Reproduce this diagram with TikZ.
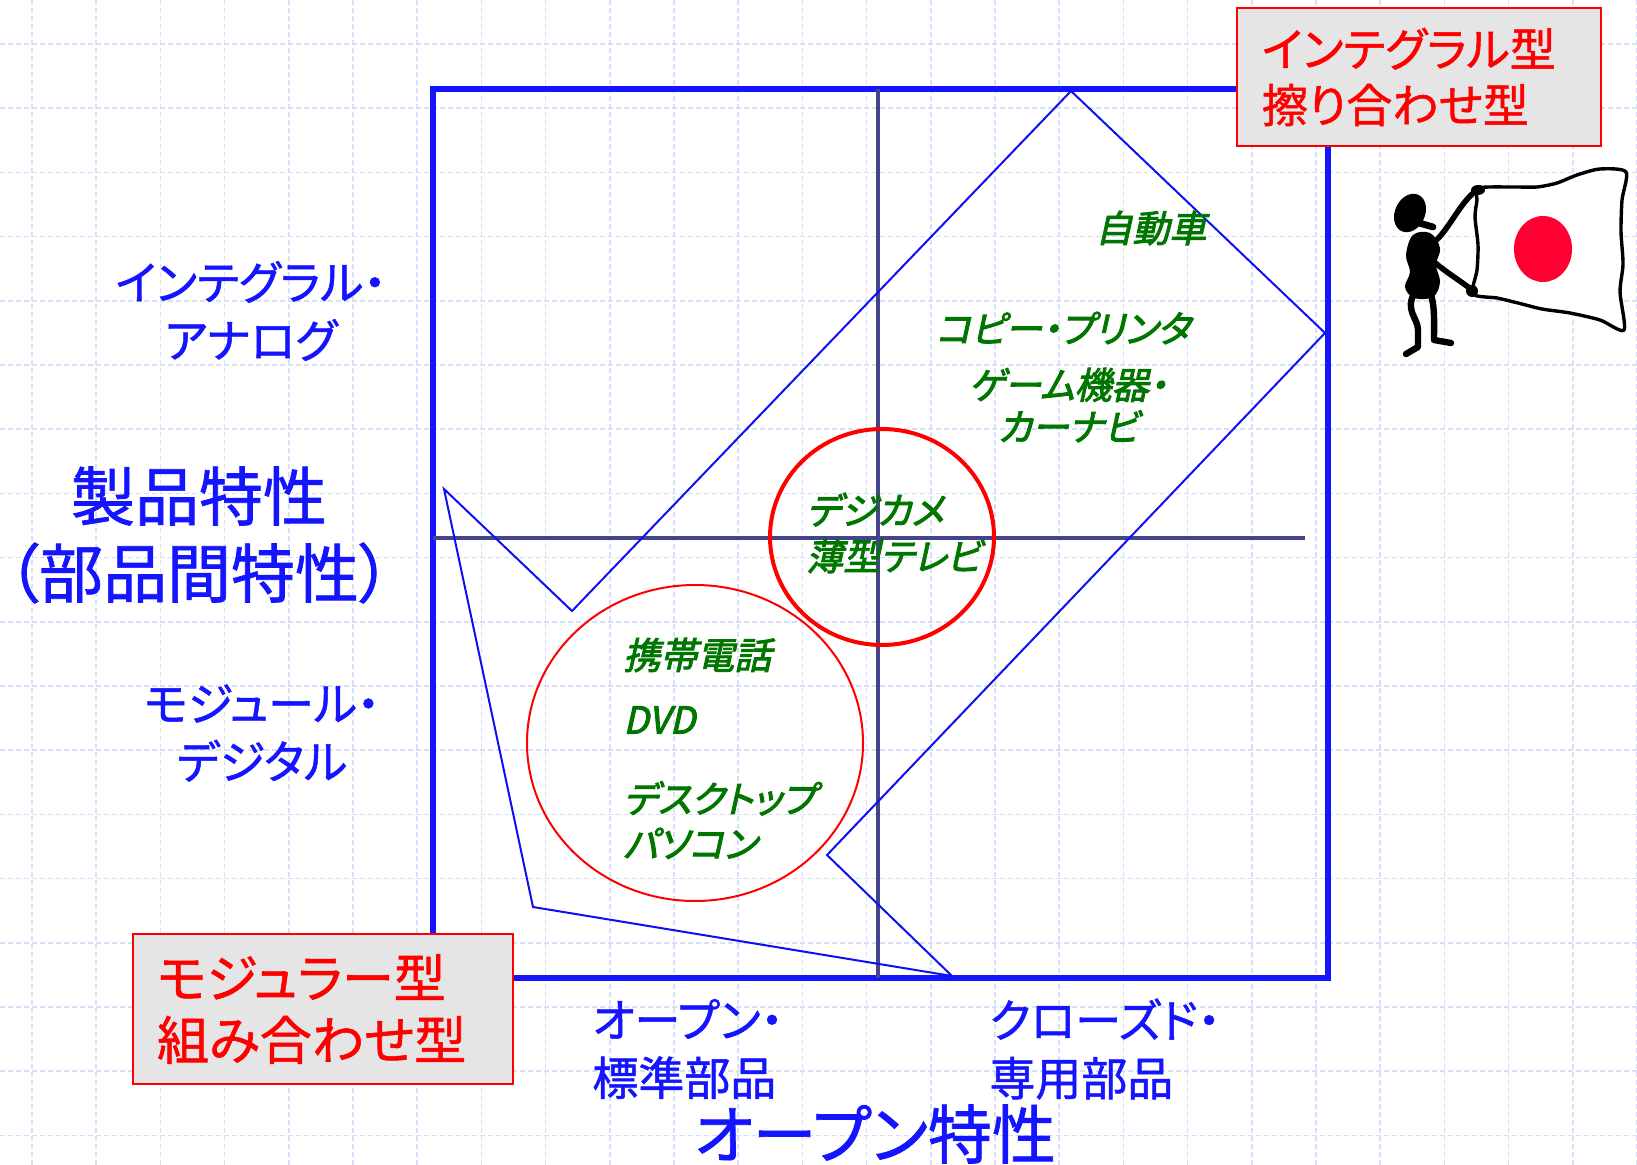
\documentclass[tikz,border=0pt]{standalone}
\usepackage{fontspec}
\setmainfont[RawFeature=+palt,FakeBold=1.1]{Noto Sans CJK JP}
\newfontfamily\slantfont[RawFeature=+palt,FakeSlant=0.22,FakeBold=2.6]{Noto Sans CJK JP}

\definecolor{frameblue}{RGB}{20,20,255}
\definecolor{axisgray}{RGB}{68,68,140}
\definecolor{zoneblue}{RGB}{15,15,245}
\definecolor{itemgreen}{RGB}{0,118,0}
\definecolor{gridblue}{RGB}{214,224,250}
\definecolor{boxgray}{RGB}{229,229,229}
\definecolor{flagred}{RGB}{255,0,51}

\tikzset{
  gridline/.style={gridblue, line width=0.8pt, dash pattern=on 2.5pt off 1.5pt},
  mainframe/.style={frameblue, line width=3pt},
  axisline/.style={axisgray, line width=1.6pt},
  zone/.style={zoneblue, line width=1pt, line join=miter},
  ringthick/.style={red, line width=2pt},
  ringthin/.style={red, line width=1pt},
  axislabel/.style={text=frameblue, inner sep=0pt, align=center,
    font={\fontsize{23}{29}\selectfont}},
  titlelabel/.style={text=frameblue, inner sep=0pt, align=center,
    font={\fontsize{32}{38.5}\selectfont}},
  item/.style={text=itemgreen, inner sep=0pt,
    font={\slantfont\fontsize{18.5}{22.5}\selectfont}},
  typebox/.style={draw=red, fill=boxgray, line width=1.2pt, text=red,
    align=left, inner ysep=0pt},
  ink/.style={black, line width=2.8pt, line cap=round, line join=round},
}

\begin{document}
\begin{tikzpicture}[x=0.5pt, y=-0.5pt]
\useasboundingbox (0,0) rectangle (1637,1165);
\fill[white] (0,0) rectangle (1637,1165);

% background grid
\foreach \i in {0,...,25}
  \draw[gridline] ({32+64.2*\i},0) -- ({32+64.2*\i},1165);
\foreach \j in {0,...,17}
  \draw[gridline] (0,{44+64.2*\j}) -- (1637,{44+64.2*\j});

% frame and axes
\draw[mainframe] (433,89) rectangle (1328,978);
\coordinate (vtop) at (878,89);
\coordinate (vbot) at (878,978);
\coordinate (hleft) at (433,538);
\coordinate (hright) at (1305,538);
\draw[axisline] (vtop) -- (vbot);
\draw[axisline] (hleft) -- (hright);

% zone outline
\draw[zone] (1071,91) -- (1325,333) -- (827,855) -- (952,976)
  -- (533,907) -- (444,489) -- (572,611) -- cycle;

% groups
\draw[ringthick] (882,537) ellipse [x radius=112, y radius=108];
\draw[ringthin] (695,743) ellipse [x radius=168, y radius=158];

% axis labels
\node[axislabel] (integ) at (251,311) {インテグラル・\\アナログ};
\node[titlelabel] (prod) at (199,535) {製品特性\\（部品間特性）};
\node[axislabel] (modul) at (262,733) {モジュール・\\デジタル};
\node[axislabel, anchor=west, align=left] (open) at (592,1049) {オープン・\\標準部品};
\node[axislabel, anchor=west, align=left] (closed) at (989,1049) {クローズド・\\専用部品};
\node[titlelabel] (openchar) at (875,1134) {オープン特性};

% products
\node[item] (car) at (1151,228) {自動車};
\node[item] (copier) at (1063,328) {コピー・プリンタ};
\node[item, align=center, font={\slantfont\fontsize{18.5}{21}\selectfont}] (game) at (1068,405) {ゲーム機器・\\カーナビ};
\node[item, anchor=west, align=left, font={\slantfont\fontsize{18.5}{23}\selectfont}] (camera) at (806,533) {デジカメ\\薄型テレビ};
\node[item, anchor=west] (phone) at (623,655) {携帯電話};
\node[item, anchor=west] (dvd) at (623,720) {DVD};
\node[item, anchor=west, align=left] (desktop) at (623,820) {デスクトップ\\パソコン};

% type boxes
\node[typebox, text width=157pt, inner xsep=12.5pt, minimum height=69pt,
  font={\fontsize{23}{28}\selectfont}] (integral) at (1419,77) {インテグラル型\\擦り合わせ型};
\node[typebox, text width=166pt, inner xsep=12pt, minimum height=75pt,
  font={\fontsize{26}{31}\selectfont}] (modular) at (323,1009) {モジュラー型\\組み合わせ型};

% flag
\filldraw[fill=white, draw=black, line width=1.7pt, line join=round]
  plot[smooth cycle, tension=0.45] coordinates {
    (1478,188) (1513,187) (1537,187) (1557,183) (1577,175) (1600,169) (1626,172)
    (1622,200) (1621,232) (1623,264) (1620,292) (1624,330)
    (1600,320) (1570,313) (1542,309) (1518,303) (1497,298) (1473,294)
    (1477,270) (1478,245) (1475,217) (1477,200)};
\fill[flagred] (1543,249) ellipse [x radius=29, y radius=33];

% figure holding the flag
\fill[black, rotate around={-25:(1410,213)}] (1410,213) ellipse [x radius=15, y radius=20];
\draw[ink, line width=3.4pt] (1419,223) -- (1433,227);
\fill[black] plot[smooth cycle, tension=0.6] coordinates {
  (1413,235) (1430,233) (1440,248) (1436,265) (1440,282) (1433,297)
  (1414,298) (1405,287) (1410,272) (1406,255)};
\draw[ink] (1432,244) .. controls (1450,230) and (1460,200) .. (1480,188);
\fill[black] (1478,190) ellipse [x radius=7, y radius=5];
\draw[ink] (1434,262) .. controls (1450,275) and (1462,282) .. (1472,290);
\fill[black] (1472,291) ellipse [x radius=6, y radius=6];
\draw[ink, line width=3.2pt] (1415,292) .. controls (1404,310) and (1418,318) .. (1418,330)
  -- (1418,347) -- (1406,354);
\draw[ink, line width=3.2pt] (1430,292) .. controls (1435,305) and (1434,320) .. (1434,340)
  -- (1451,343);
\end{tikzpicture}
\end{document}
